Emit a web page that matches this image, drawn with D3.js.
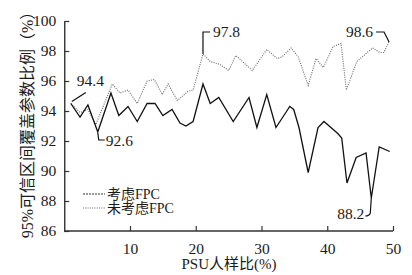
<!DOCTYPE html>
<html><head><meta charset="utf-8">
<script src="https://cdn.jsdelivr.net/npm/d3@7"></script>
<style>
html,body{margin:0;padding:0;background:#fff;}
svg text{font-family:"Liberation Serif","Times New Roman","DejaVu Serif","Noto Sans CJK SC",serif !important;fill:#1a1a1a;}
</style></head>
<body><svg id="c" width="412" height="275"></svg>
<script>
// ---- data ----
const seriesNames = ["考虑FPC", "未考虑FPC"];
// series 1 (solid)
const fpcX = [1.0,2.4,3.6,5.1,7.1,8.3,9.7,11.1,12.6,13.8,15.0,16.4,17.6,18.5,19.6,21.1,22.2,23.5,25.7,28.1,29.3,30.8,32.2,33.7,34.3,34.9,35.7,37.1,38.6,39.5,41.6,42.2,43.0,44.4,45.9,46.7,47.9,49.5];
const fpcY = [94.5,93.6,94.4,92.6,95.2,93.7,94.3,93.3,94.5,94.5,93.7,94.1,93.2,93.0,93.3,95.8,94.5,94.9,93.3,94.9,92.9,95.1,92.9,93.9,94.3,94.1,92.9,89.9,92.9,93.3,92.5,92.2,89.2,90.9,91.2,88.2,91.6,91.3];
// series 2 (dotted)
const noFpcX = [1.0,2.4,3.6,4.8,7.3,8.5,9.7,11.1,12.6,13.7,14.9,15.8,17.2,18.8,19.6,21.1,22.2,23.7,25.0,26.1,28.6,30.8,32.4,33.1,34.5,35.6,37.1,38.3,39.4,40.9,42.1,42.9,44.5,46.9,48.0,48.6,49.4];
const noFpcY = [94.5,93.9,94.1,93.1,95.8,95.2,95.4,94.5,96.0,96.1,95.1,95.8,94.7,95.3,95.4,97.8,97.3,97.1,96.7,97.7,96.7,98.1,97.5,97.6,98.2,97.6,95.7,97.5,96.9,98.3,98.5,95.4,97.3,98.2,97.9,97.9,98.6];
const xTicks = [10,20,30,40,50];
const yTicks = [86,88,90,92,94,96,98,100];
const annoLabels = ["94.4","92.6","97.8","98.6","88.2"];
const annoX = [1.0,5.1,21.1,49.4,46.7];
const annoY = [94.5,92.6,97.8,98.6,88.2];

// ---- drawing ----
const svg = d3.select("#c");
const x = d3.scaleLinear().domain([0,50]).range([64.25,393]);
const y = d3.scaleLinear().domain([86,100]).range([231,21]);

const xa = svg.append("g").attr("transform","translate(0,231)")
  .call(d3.axisBottom(x).tickValues(xTicks).tickSizeInner(-5).tickSizeOuter(0).tickPadding(12));
const ya = svg.append("g").attr("transform","translate(64.25,0)")
  .call(d3.axisLeft(y).tickValues(yTicks).tickSizeInner(-5).tickSizeOuter(0).tickPadding(8));
[xa,ya].forEach(a=>{
  a.attr("font-family",null);
  a.select(".domain").attr("stroke","#333").attr("stroke-width",1.4);
  a.selectAll(".tick line").attr("stroke","#333").attr("stroke-width",1.2);
  a.selectAll("text").attr("font-size",15.5).attr("fill","#1a1a1a");
});
xa.select(".domain").attr("d",`M${x(0)},0H${x(50)}`);

const line = d3.line().x(d=>x(d[0])).y(d=>y(d[1]));
svg.append("path").datum(noFpcX.map((v,i)=>[v,noFpcY[i]]))
  .attr("d",line).attr("fill","none").attr("stroke","#666").attr("stroke-width",1.1)
  .attr("stroke-dasharray","1,1.3");
svg.append("path").datum(fpcX.map((v,i)=>[v,fpcY[i]]))
  .attr("d",line).attr("fill","none").attr("stroke","#111").attr("stroke-width",1.3);

const leader = [
  {p:"M1,-2L15,-11", tx:6, ty:-18, anchor:"start"},
  {p:"M0,1L1,8H7", tx:8, ty:14, anchor:"start"},
  {p:"M0,0V-22H7", tx:10, ty:-17, anchor:"start"},
  {p:"M0,0L-5,-10H-13", tx:-16, ty:-5, anchor:"end"},
  {p:"M0,0L-1,15Q-2,18 -6,18", tx:-7, ty:21, anchor:"end"}
];
annoLabels.forEach((lab,i)=>{
  const g = svg.append("g").attr("transform",`translate(${x(annoX[i])},${y(annoY[i])})`);
  g.append("path").attr("d",leader[i].p).attr("fill","none").attr("stroke","#111").attr("stroke-width",1.2);
  g.append("text").attr("x",leader[i].tx).attr("y",leader[i].ty).attr("text-anchor",leader[i].anchor)
    .attr("font-size",15.5).text(lab);
});

const lg = svg.append("g");
seriesNames.forEach((n,i)=>{
  const yy = 194 + i*14;
  lg.append("line").attr("x1",83).attr("x2",105).attr("y1",yy).attr("y2",yy)
    .attr("stroke", i===0?"#333":"#666").attr("stroke-width",1.1)
    .attr("stroke-dasharray", i===0?"2,1":"1,1.3");
  lg.append("text").attr("x",107).attr("y",yy+5).attr("font-size",14).text(n);
});

svg.append("text").attr("x",229).attr("y",269).attr("text-anchor","middle")
  .attr("font-size",15).text("PSU人样比(%)");
svg.append("text").attr("transform","translate(33,121) rotate(-90)").attr("text-anchor","middle")
  .attr("font-size",16).text("95%可信区间覆盖参数比例（%）");
</script></body></html>
